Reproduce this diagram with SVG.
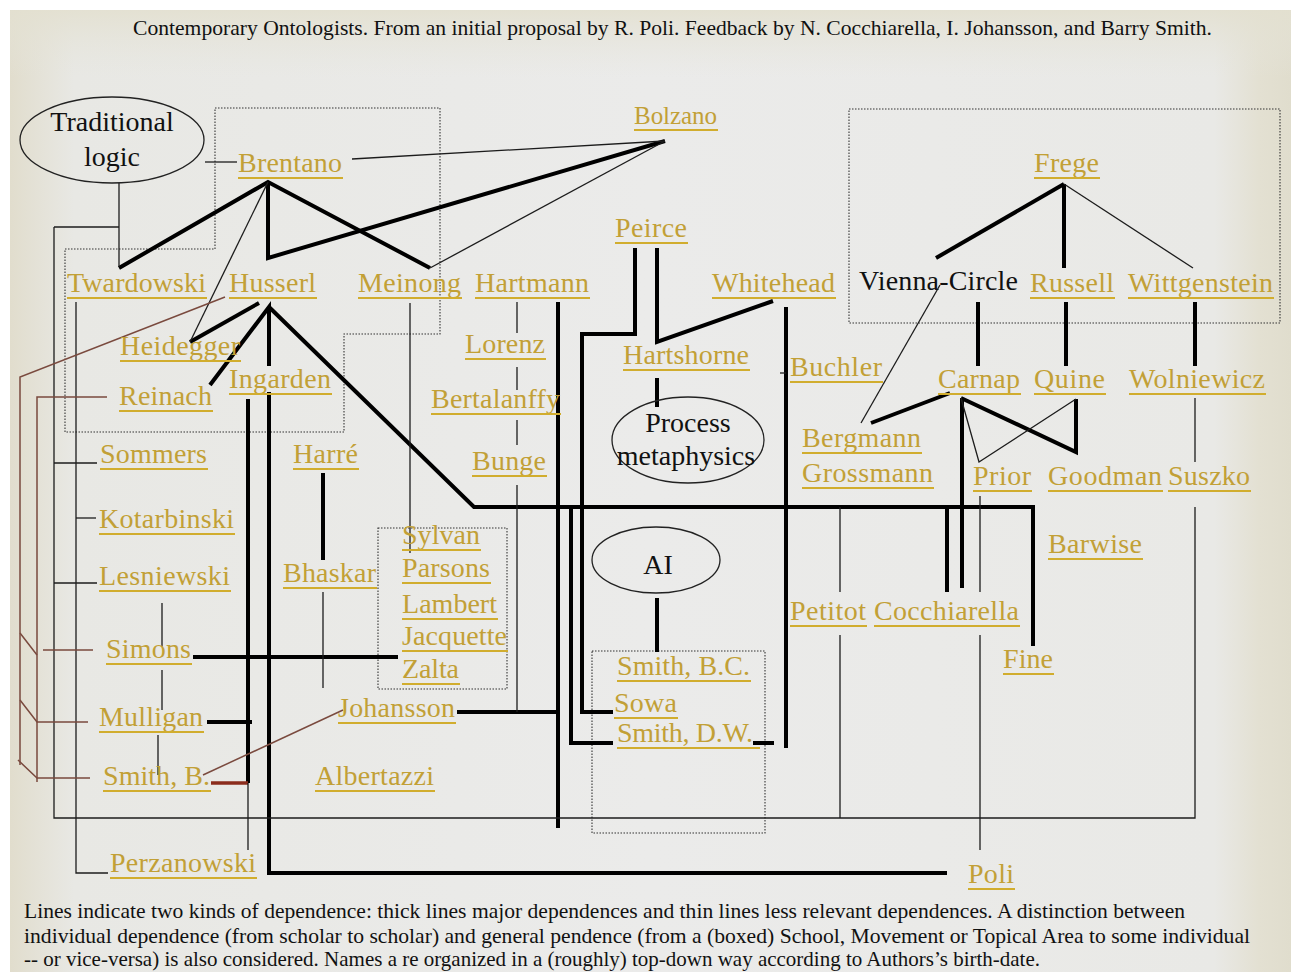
<svg xmlns="http://www.w3.org/2000/svg" width="1291" height="972" viewBox="0 0 1291 972">
<defs>
<linearGradient id="bgH" x1="0" y1="0" x2="1" y2="0">
<stop offset="0" stop-color="#e1ddcd"/>
<stop offset="0.05" stop-color="#e8e8e4"/>
<stop offset="0.5" stop-color="#ebebea"/>
<stop offset="0.94" stop-color="#e9e9e6"/>
<stop offset="0.975" stop-color="#e3e0d2"/>
<stop offset="1" stop-color="#e0ddcd"/>
</linearGradient>
<linearGradient id="bgV" x1="0" y1="0" x2="0" y2="1">
<stop offset="0" stop-color="#e3e0d0" stop-opacity="0.9"/>
<stop offset="0.07" stop-color="#e6e5dc" stop-opacity="0"/>
<stop offset="1" stop-color="#e6e5dc" stop-opacity="0"/>
</linearGradient>
<style>
.lbl{font-family:"Liberation Serif","Times New Roman",serif;font-size:28px;fill:#c2a036;}
.blk{font-family:"Liberation Serif","Times New Roman",serif;font-size:28px;fill:#111;}
.ul{stroke:#d1ad2e;stroke-width:1.8;}
.cap{font-family:"Liberation Serif","Times New Roman",serif;font-size:21px;fill:#111;}
.thick{stroke:#000;stroke-width:4;fill:none;stroke-linejoin:miter;}
.thin{stroke:#1c1c1c;stroke-width:1.3;fill:none;}
.brown{stroke:#7a4a3e;stroke-width:1.5;fill:none;}
.brownthick{stroke:#8b2c1c;stroke-width:3.5;fill:none;}
.box{stroke:#333;stroke-width:1.1;fill:none;stroke-dasharray:1.5 1.5;}
.oval{stroke:#222;stroke-width:1.3;fill:none;}
</style>
</defs>
<rect x="0" y="0" width="1291" height="972" fill="#ffffff"/>
<rect x="10" y="10" width="1281" height="962" fill="url(#bgH)"/>
<rect x="10" y="10" width="1281" height="962" fill="url(#bgV)"/>

<text class="cap" x="133" y="35" textLength="1079" lengthAdjust="spacingAndGlyphs">Contemporary Ontologists. From an initial proposal by R. Poli. Feedback  by N. Cocchiarella, I. Johansson, and Barry Smith.</text>

<g id="boxes">
<path class="box" d="M215,108 H440 V334 H344 V432 H65 V249 H215 Z"/>
<rect class="box" x="849" y="109" width="431" height="214"/>
<rect class="box" x="378" y="528" width="129" height="161"/>
<rect class="box" x="592" y="651" width="173" height="182"/>
</g>

<g id="connectors">
<path class="thick" d="M119,268 L268,182 L430,268"/>
<path class="thick" d="M268,182 L268,258 L665,141"/>
<path class="thick" d="M190,342 L259,303"/>
<path class="thick" d="M210,385 L269,307 L269,366"/>
<path class="thick" d="M269,307 L474,507 L1033,507 L1033,646"/>
<path class="thick" d="M269,392 L269,873 L947,873"/>
<path class="thick" d="M248,399 L248,783"/>
<path class="thick" d="M207,722 L252,722"/>
<path class="thick" d="M193,657 L398,657"/>
<path class="thick" d="M323,473 L323,560"/>
<path class="thick" d="M457,712 L558,712"/>
<path class="thick" d="M558,302 L558,828"/>
<path class="thick" d="M635,248 L635,334 L582,334 L582,712 L613,712"/>
<path class="thick" d="M657,248 L657,342 L773,301"/>
<path class="thick" d="M657,378 L657,407"/>
<path class="thick" d="M786,307 L786,748"/>
<path class="thick" d="M753,743 L774,743"/>
<path class="thick" d="M571,507 L571,743 L613,743"/>
<path class="thick" d="M947,507 L947,592"/>
<path class="thick" d="M962,398 L962,588"/>
<path class="thick" d="M961,398 L1076,452 L1076,399"/>
<path class="thick" d="M1064,184 L936,258"/>
<path class="thick" d="M1064,184 L1064,268"/>
<path class="thick" d="M978,302 L978,366"/>
<path class="thick" d="M1066,302 L1066,366"/>
<path class="thick" d="M1195,302 L1195,366"/>
<path class="thick" d="M950,393 L871,423"/>
<path class="thick" d="M657,598 L657,652"/>
<path class="brownthick" d="M211,783 L248,783"/>

<path class="thin" d="M205,162 L237,162"/>
<path class="thin" d="M119,183 L119,267"/>
<path class="thin" d="M54,227 L119,227"/>
<path class="thin" d="M54,227 L54,818 L1195,818 L1195,507"/>
<path class="thin" d="M76,302 L76,873 L108,873"/>
<path class="thin" d="M54,463 L97,463"/>
<path class="thin" d="M54,583 L97,583"/>
<path class="thin" d="M76,518 L96,518"/>
<path class="thin" d="M268,182 L190,342"/>
<path class="thin" d="M352,159 L665,141"/>
<path class="thin" d="M430,268 L665,141"/>
<path class="thin" d="M410,303 L410,553"/>
<path class="thin" d="M517,302 L517,333 M517,367 L517,390 M517,420 L517,445 M517,485 L517,712"/>
<path class="thin" d="M323,592 L323,688"/>
<path class="thin" d="M162,603 L162,647 M162,670 L162,710 M158,735 L158,775"/>
<path class="thin" d="M248,783 L248,850"/>
<path class="thin" d="M1064,184 L1193,268"/>
<path class="thin" d="M940,285 L861,423"/>
<path class="thin" d="M1076,399 L979,462 L961,398"/>
<path class="thin" d="M980,496 L980,592 M980,635 L980,850"/>
<path class="thin" d="M840,507 L840,592 M840,635 L840,818"/>
<path class="thin" d="M1195,398 L1195,462"/>
<path class="thin" d="M780,373 L786,373"/>

<path class="brown" d="M225,297 L20,377 L20,765"/>
<path class="brown" d="M107,397 L37,397 L37,782"/>
<path class="brown" d="M20,633 L37,655 M43,650 L93,650"/>
<path class="brown" d="M20,700 L37,722 L88,722"/>
<path class="brown" d="M18,760 L37,778 L90,778"/>
<path class="brown" d="M343,710 L203,775"/>
</g>

<g id="n-traditional-logic">
<ellipse class="oval" cx="112" cy="140" rx="92" ry="43"/>
<text class="blk" x="112" y="131" text-anchor="middle">Traditional</text>
<text class="blk" x="112" y="166" text-anchor="middle">logic</text>
</g>
<g id="n-process">
<ellipse class="oval" cx="688" cy="440" rx="76" ry="43"/>
<text class="blk" x="688" y="432" text-anchor="middle">Process</text>
<text class="blk" x="686" y="465" text-anchor="middle">metaphysics</text>
</g>
<g id="n-ai">
<ellipse class="oval" cx="656" cy="560" rx="64" ry="33"/>
<text class="blk" x="658" y="574" text-anchor="middle">AI</text>
</g>
<g id="n-vienna"><text class="blk" x="859" y="290" textLength="159">Vienna-Circle</text></g>

<g id="n-brentano"><text class="lbl" x="238" y="172" textLength="104">Brentano</text><line class="ul" x1="238" y1="178" x2="343" y2="178"/></g>
<g id="n-bolzano"><text class="lbl" x="634" y="124" textLength="83" style="font-size:25px">Bolzano</text><line class="ul" x1="634" y1="130" x2="718" y2="130"/></g>
<g id="n-peirce"><text class="lbl" x="615" y="237" textLength="72">Peirce</text><line class="ul" x1="615" y1="243" x2="688" y2="243"/></g>
<g id="n-frege"><text class="lbl" x="1034" y="172" textLength="65">Frege</text><line class="ul" x1="1034" y1="178" x2="1100" y2="178"/></g>
<g id="n-twardowski"><text class="lbl" x="67" y="292" textLength="139">Twardowski</text><line class="ul" x1="67" y1="298" x2="207" y2="298"/></g>
<g id="n-husserl"><text class="lbl" x="229" y="292" textLength="87">Husserl</text><line class="ul" x1="229" y1="298" x2="317" y2="298"/></g>
<g id="n-meinong"><text class="lbl" x="358" y="292" textLength="103">Meinong</text><line class="ul" x1="358" y1="298" x2="462" y2="298"/></g>
<g id="n-hartmann"><text class="lbl" x="475" y="292" textLength="114">Hartmann</text><line class="ul" x1="475" y1="298" x2="590" y2="298"/></g>
<g id="n-whitehead"><text class="lbl" x="712" y="292" textLength="123">Whitehead</text><line class="ul" x1="712" y1="298" x2="836" y2="298"/></g>
<g id="n-russell"><text class="lbl" x="1030" y="292" textLength="84">Russell</text><line class="ul" x1="1030" y1="298" x2="1115" y2="298"/></g>
<g id="n-wittgenstein"><text class="lbl" x="1128" y="292" textLength="145">Wittgenstein</text><line class="ul" x1="1128" y1="298" x2="1274" y2="298"/></g>
<g id="n-heidegger"><text class="lbl" x="120" y="355" textLength="120">Heidegger</text><line class="ul" x1="120" y1="361" x2="241" y2="361"/></g>
<g id="n-lorenz"><text class="lbl" x="465" y="353" textLength="80">Lorenz</text><line class="ul" x1="465" y1="359" x2="546" y2="359"/></g>
<g id="n-hartshorne"><text class="lbl" x="623" y="364" textLength="126">Hartshorne</text><line class="ul" x1="623" y1="370" x2="750" y2="370"/></g>
<g id="n-buchler"><text class="lbl" x="790" y="376" textLength="92">Buchler</text><line class="ul" x1="790" y1="382" x2="883" y2="382"/></g>
<g id="n-reinach"><text class="lbl" x="119" y="405" textLength="93">Reinach</text><line class="ul" x1="119" y1="411" x2="213" y2="411"/></g>
<g id="n-ingarden"><text class="lbl" x="229" y="388" textLength="102">Ingarden</text><line class="ul" x1="229" y1="394" x2="332" y2="394"/></g>
<g id="n-bertalanffy"><text class="lbl" x="431" y="408" textLength="129">Bertalanffy</text><line class="ul" x1="431" y1="414" x2="561" y2="414"/></g>
<g id="n-carnap"><text class="lbl" x="938" y="388" textLength="82">Carnap</text><line class="ul" x1="938" y1="394" x2="1021" y2="394"/></g>
<g id="n-quine"><text class="lbl" x="1034" y="388" textLength="71">Quine</text><line class="ul" x1="1034" y1="394" x2="1106" y2="394"/></g>
<g id="n-wolniewicz"><text class="lbl" x="1129" y="388" textLength="136">Wolniewicz</text><line class="ul" x1="1129" y1="394" x2="1266" y2="394"/></g>
<g id="n-bergmann"><text class="lbl" x="802" y="447" textLength="119">Bergmann</text><line class="ul" x1="802" y1="453" x2="922" y2="453"/></g>
<g id="n-grossmann"><text class="lbl" x="802" y="482" textLength="131">Grossmann</text><line class="ul" x1="802" y1="488" x2="934" y2="488"/></g>
<g id="n-sommers"><text class="lbl" x="100" y="463" textLength="107">Sommers</text><line class="ul" x1="100" y1="469" x2="208" y2="469"/></g>
<g id="n-harre"><text class="lbl" x="293" y="463" textLength="65">Harré</text><line class="ul" x1="293" y1="469" x2="359" y2="469"/></g>
<g id="n-bunge"><text class="lbl" x="472" y="470" textLength="74">Bunge</text><line class="ul" x1="472" y1="476" x2="547" y2="476"/></g>
<g id="n-prior"><text class="lbl" x="973" y="485" textLength="58">Prior</text><line class="ul" x1="973" y1="491" x2="1032" y2="491"/></g>
<g id="n-goodman"><text class="lbl" x="1048" y="485" textLength="114">Goodman</text><line class="ul" x1="1048" y1="491" x2="1163" y2="491"/></g>
<g id="n-suszko"><text class="lbl" x="1168" y="485" textLength="82">Suszko</text><line class="ul" x1="1168" y1="491" x2="1251" y2="491"/></g>
<g id="n-kotarbinski"><text class="lbl" x="99" y="528" textLength="135">Kotarbinski</text><line class="ul" x1="99" y1="534" x2="235" y2="534"/></g>
<g id="n-sylvan"><text class="lbl" x="402" y="544" textLength="78">Sylvan</text><line class="ul" x1="402" y1="550" x2="481" y2="550"/></g>
<g id="n-barwise"><text class="lbl" x="1048" y="553" textLength="94">Barwise</text><line class="ul" x1="1048" y1="559" x2="1143" y2="559"/></g>
<g id="n-parsons"><text class="lbl" x="402" y="577" textLength="88">Parsons</text><line class="ul" x1="402" y1="583" x2="491" y2="583"/></g>
<g id="n-lesniewski"><text class="lbl" x="99" y="585" textLength="131">Lesniewski</text><line class="ul" x1="99" y1="591" x2="231" y2="591"/></g>
<g id="n-bhaskar"><text class="lbl" x="283" y="582" textLength="93">Bhaskar</text><line class="ul" x1="283" y1="588" x2="377" y2="588"/></g>
<g id="n-lambert"><text class="lbl" x="402" y="613" textLength="95">Lambert</text><line class="ul" x1="402" y1="619" x2="498" y2="619"/></g>
<g id="n-petitot"><text class="lbl" x="790" y="620" textLength="76">Petitot</text><line class="ul" x1="790" y1="626" x2="867" y2="626"/></g>
<g id="n-cocchiarella"><text class="lbl" x="874" y="620" textLength="145">Cocchiarella</text><line class="ul" x1="874" y1="626" x2="1020" y2="626"/></g>
<g id="n-jacquette"><text class="lbl" x="402" y="645" textLength="105">Jacquette</text><line class="ul" x1="402" y1="651" x2="508" y2="651"/></g>
<g id="n-simons"><text class="lbl" x="106" y="658" textLength="85">Simons</text><line class="ul" x1="106" y1="664" x2="192" y2="664"/></g>
<g id="n-smith-bc"><text class="lbl" x="617" y="675" textLength="133">Smith, B.C.</text><line class="ul" x1="617" y1="681" x2="751" y2="681"/></g>
<g id="n-fine"><text class="lbl" x="1003" y="668" textLength="50">Fine</text><line class="ul" x1="1003" y1="674" x2="1054" y2="674"/></g>
<g id="n-zalta"><text class="lbl" x="402" y="678" textLength="57">Zalta</text><line class="ul" x1="402" y1="684" x2="460" y2="684"/></g>
<g id="n-johansson"><text class="lbl" x="338" y="717" textLength="117">Johansson</text><line class="ul" x1="338" y1="723" x2="456" y2="723"/></g>
<g id="n-sowa"><text class="lbl" x="614" y="712" textLength="63">Sowa</text><line class="ul" x1="614" y1="718" x2="678" y2="718"/></g>
<g id="n-mulligan"><text class="lbl" x="99" y="726" textLength="104">Mulligan</text><line class="ul" x1="99" y1="732" x2="204" y2="732"/></g>
<g id="n-smith-dw"><text class="lbl" x="617" y="742" textLength="136">Smith, D.W.</text><line class="ul" x1="617" y1="748" x2="760" y2="748"/></g>
<g id="n-smith-b"><text class="lbl" x="103" y="785" textLength="107">Smith, B.</text><line class="ul" x1="103" y1="791" x2="211" y2="791"/></g>
<g id="n-albertazzi"><text class="lbl" x="315" y="785" textLength="119">Albertazzi</text><line class="ul" x1="315" y1="791" x2="435" y2="791"/></g>
<g id="n-perzanowski"><text class="lbl" x="110" y="872" textLength="146">Perzanowski</text><line class="ul" x1="110" y1="878" x2="257" y2="878"/></g>
<g id="n-poli"><text class="lbl" x="968" y="883" textLength="46">Poli</text><line class="ul" x1="968" y1="889" x2="1015" y2="889"/></g>

<g id="caption">
<text class="cap" x="24" y="918" textLength="1161" lengthAdjust="spacingAndGlyphs">Lines indicate two kinds of dependence: thick lines major dependences and thin lines less relevant dependences. A distinction between</text>
<text class="cap" x="24" y="943" textLength="1226" lengthAdjust="spacingAndGlyphs">individual dependence (from scholar to scholar) and general pendence  (from a (boxed) School, Movement or Topical Area to some individual</text>
<text class="cap" x="24" y="966" textLength="1016" lengthAdjust="spacingAndGlyphs">-- or vice-versa) is also considered. Names a re organized in a (roughly) top-down way according to Authors’s birth-date.</text>
</g>
</svg>
